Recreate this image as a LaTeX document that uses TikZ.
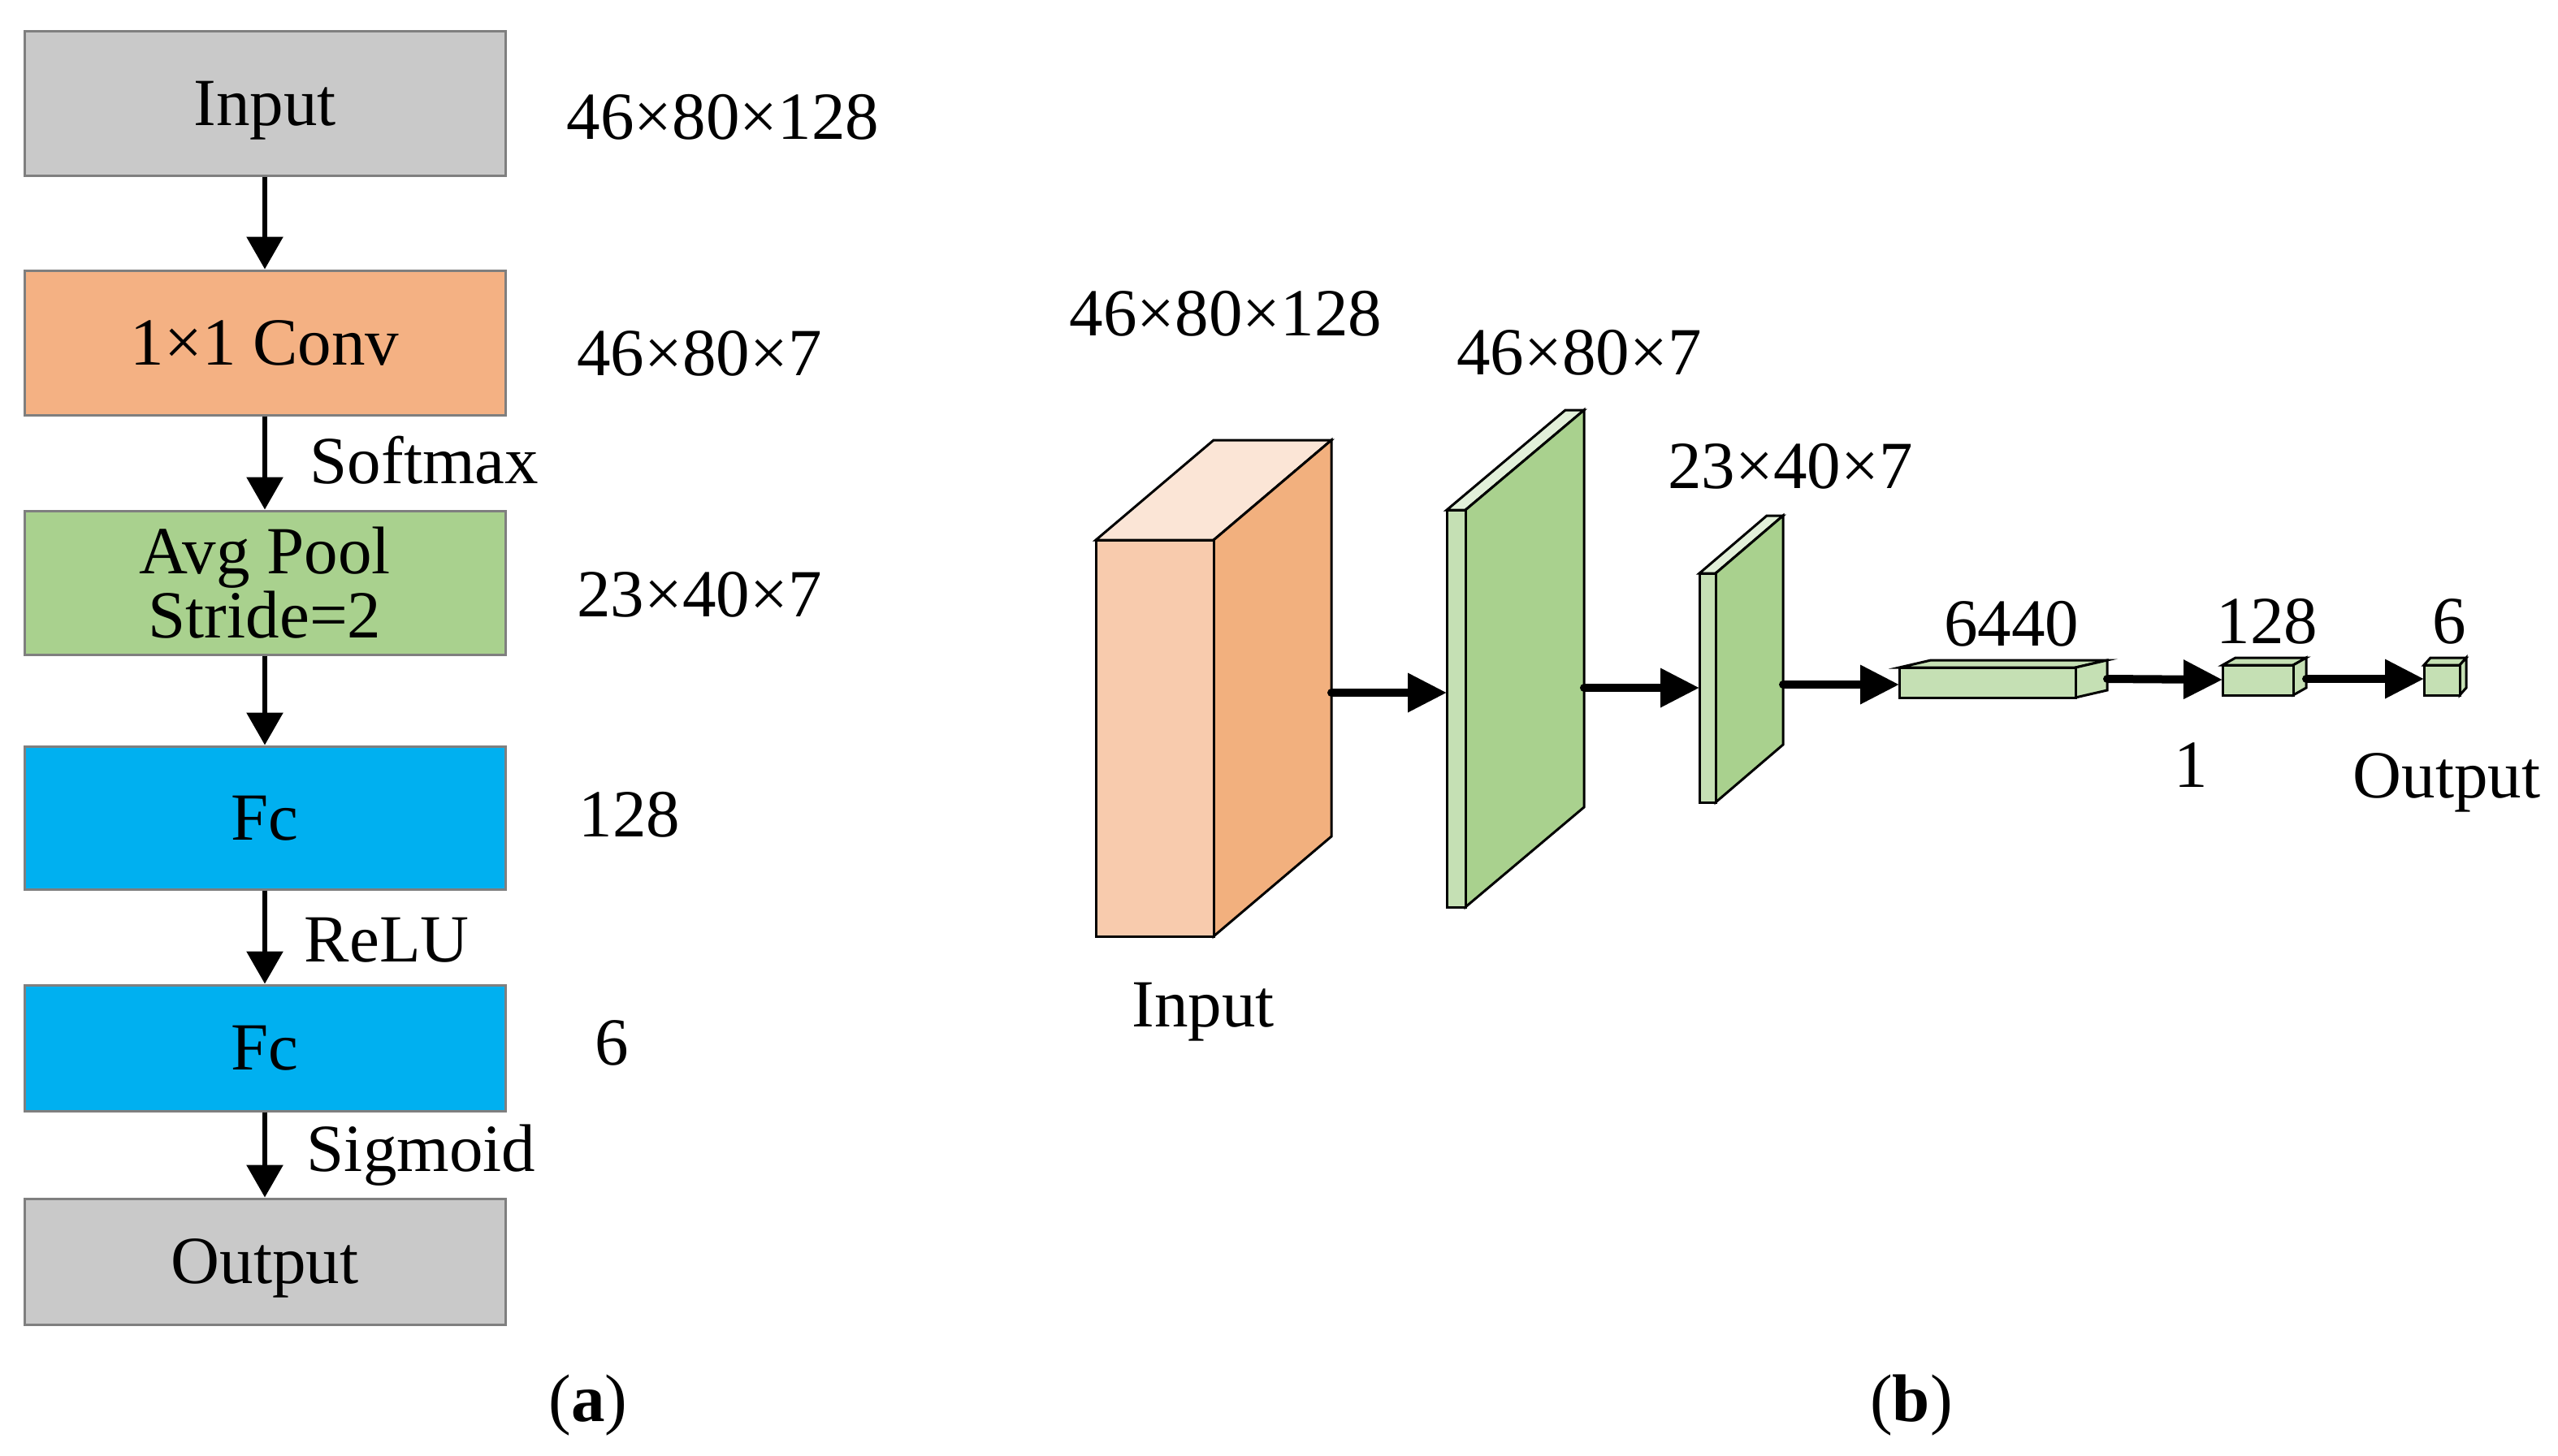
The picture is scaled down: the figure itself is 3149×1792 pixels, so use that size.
\documentclass[tikz,border=0pt]{standalone}
\usepackage{fontspec}
\setmainfont{Liberation Serif}
\usetikzlibrary{arrows.meta}
\definecolor{boxgray}{HTML}{C9C9C9}
\definecolor{boxedge}{HTML}{7F7F7F}
\definecolor{convor}{HTML}{F4B183}
\definecolor{poolgr}{HTML}{A9D18E}
\definecolor{fcblue}{HTML}{00B0F0}
\definecolor{cubefront}{HTML}{F8CBAD}
\definecolor{cubeside}{HTML}{F2B07E}
\definecolor{cubetop}{HTML}{FBE5D6}
\definecolor{grfront}{HTML}{C5E0B4}
\definecolor{grtop}{HTML}{E2F0D9}
\definecolor{grside}{HTML}{A9D18E}
\begin{document}
\begin{tikzpicture}[x=0.25pt,y=-0.25pt,
  font=\fontsize{20.75}{22}\selectfont,
  blk/.style={draw=boxedge, line width=0.75pt, minimum width=148pt, inner sep=0pt, align=center},
  one/.style={text height=13.7pt, text depth=0pt},
  flow/.style={-{Triangle[length=10pt,width=11pt]}, line width=1.5pt},
  bigflow/.style={-{Triangle[length=12pt,width=11.5pt]}, line width=2.5pt, line cap=round},
  lbl/.style={inner sep=0pt},
  cub/.style={draw=black, line width=0.75pt, line join=miter}]
\useasboundingbox (0,0) rectangle (3149,1792);

% ---------- (a) ----------
\node[blk, one, fill=boxgray, minimum height=44.5pt] (in) at (326,127) {Input};
\node[blk, one, fill=convor, minimum height=44.5pt] (conv) at (326,422) {1×1 Conv};
\node[blk, fill=poolgr, minimum height=44.25pt, font=\fontsize{20.75}{19.75}\selectfont] (pool) at (326,717.5) {Avg Pool\\Stride=2};
\node[blk, one, fill=fcblue, minimum height=44pt] (fc1) at (326,1007) {Fc};
\node[blk, one, fill=fcblue, minimum height=38.75pt] (fc2) at (326,1290.5) {Fc};
\node[blk, one, fill=boxgray, minimum height=38.75pt] (out) at (326,1553.5) {Output};

\draw[flow] (in.south) -- (conv.north);
\draw[flow] (conv.south) -- (pool.north);
\draw[flow] (pool.south) -- (fc1.north);
\draw[flow] (fc1.south) -- (fc2.north);
\draw[flow] (fc2.south) -- (out.north);

\node[lbl, one, anchor=west] (lsm) at (381,568) {Softmax};
\node[lbl, one, anchor=west] (lrl) at (374,1157) {ReLU};
\node[lbl, one, anchor=west] (lsg) at (377,1415) {Sigmoid};

\node[lbl] (da1) at (890,144) {46×80×128};
\node[lbl] (da2) at (861,435) {46×80×7};
\node[lbl] (da3) at (861,732) {23×40×7};
\node[lbl] (da4) at (775,1003) {128};
\node[lbl] (da5) at (753,1284) {6};

\node[lbl] (capa) at (724,1731) {(\textbf{a})};

% ---------- (b) ----------
% input cuboid
\filldraw[cub, fill=cubetop] (1349,665) -- (1494,665) -- (1639,542) -- (1494,542) -- cycle;
\filldraw[cub, fill=cubeside] (1494,665) -- (1639,542) -- (1639,1030) -- (1494,1153) -- cycle;
\filldraw[cub, fill=cubefront] (1349,665) rectangle (1494,1153);
% green layer 1
\filldraw[cub, fill=grtop] (1781,628) -- (1804,628) -- (1950,505) -- (1927,505) -- cycle;
\filldraw[cub, fill=grside] (1804,628) -- (1950,505) -- (1950,994) -- (1804,1117) -- cycle;
\filldraw[cub, fill=grfront] (1781,628) rectangle (1804,1117);
% green layer 2
\filldraw[cub, fill=grtop] (2092,706) -- (2112,706) -- (2195,635) -- (2175,635) -- cycle;
\filldraw[cub, fill=grside] (2112,706) -- (2195,635) -- (2195,917) -- (2112,988) -- cycle;
\filldraw[cub, fill=grfront] (2092,706) rectangle (2112,988);
% 6440 bar
\filldraw[cub, fill=grfront] (2338,822) -- (2555,822) -- (2594,813) -- (2377,813) -- cycle;
\filldraw[cub, fill=grfront] (2555,822) -- (2594,813) -- (2594,850) -- (2555,859) -- cycle;
\filldraw[cub, fill=grfront] (2338,822) rectangle (2555,859);
% 128 box
\filldraw[cub, fill=grfront] (2736,819) -- (2823,819) -- (2839,810) -- (2752,810) -- cycle;
\filldraw[cub, fill=grfront] (2823,819) -- (2839,810) -- (2839,847) -- (2823,856) -- cycle;
\filldraw[cub, fill=grfront] (2736,819) rectangle (2823,856);
% 6 box
\filldraw[cub, fill=grfront] (2984,819) -- (3028,819) -- (3036,810) -- (2992,810) -- cycle;
\filldraw[cub, fill=grfront] (3028,819) -- (3036,810) -- (3036,847) -- (3028,856) -- cycle;
\filldraw[cub, fill=grfront] (2984,819) rectangle (3028,856);

\coordinate (a1s) at (1639,853);
\coordinate (a1e) at (1781,853);
\coordinate (a2s) at (1950,847);
\coordinate (a2e) at (2092,847);
\coordinate (a3s) at (2195,843);
\coordinate (a3e) at (2338,843);
\coordinate (a4s) at (2594,836);
\coordinate (a4e) at (2736,837);
\coordinate (a5s) at (2839,836);
\coordinate (a5e) at (2984,836);
\draw[bigflow] (a1s) -- (a1e);
\draw[bigflow] (a2s) -- (a2e);
\draw[bigflow] (a3s) -- (a3e);
\draw[bigflow] (a4s) -- (a4e);
\draw[bigflow] (a5s) -- (a5e);

\node[lbl] (db1) at (1509,386) {46×80×128};
\node[lbl] (db2) at (1944,434) {46×80×7};
\node[lbl] (db3) at (2204,574) {23×40×7};
\node[lbl] (db4) at (2476,768) {6440};
\node[lbl] (db5) at (2791,765) {128};
\node[lbl] (db6) at (3015,765) {6};
\node[lbl] (db7) at (2697,942) {1};
\node[lbl, one] (dbin) at (1481,1237) {Input};
\node[lbl, one] (dbout) at (3012,955) {Output};

\node[lbl] (capb) at (2353,1731) {(\textbf{b})};
\end{tikzpicture}
\end{document}
